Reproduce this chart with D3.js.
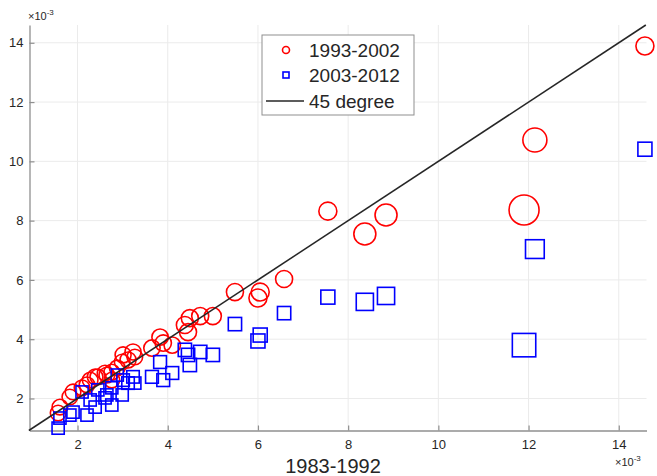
<!DOCTYPE html>
<html><head><meta charset="utf-8">
<script src="https://cdn.jsdelivr.net/npm/d3@7"></script>
<style>body{margin:0;background:#fff}svg{display:block;font-family:"Liberation Sans",Arial,Helvetica,sans-serif}</style>
</head><body><svg id="c" width="657" height="476"></svg>
<script>
// values in units of 1e-3
const period1 = [14.58,12.14,11.90,8.84,8.37,7.55,6.58,6.05,6.00,5.49,5.00,4.72,4.49,4.38,4.45,3.83,3.90,4.10,3.65,3.23,3.01,3.12,2.88,2.76,2.61,2.45,2.39,2.28,2.21,2.10,1.90,1.83,1.61,1.57,2.76,2.99,3.27,2.65];
const period2 = [13.89,10.72,8.36,8.19,7.55,8.32,6.03,5.59,5.39,5.59,4.78,4.78,4.71,4.48,4.24,4.07,3.87,3.80,3.70,3.57,3.47,3.30,3.03,2.89,2.86,2.73,2.73,2.62,2.46,2.36,2.22,2.05,1.71,1.51,2.62,3.23,3.40,2.79];
const period3 = [10.41,7.04,3.80,5.46,5.26,5.42,4.88,4.14,3.94,4.51,3.47,3.57,3.13,3.64,3.47,3.23,2.62,2.86,2.73,2.73,2.62,2.52,2.79,2.36,2.02,2.29,1.71,1.95,1.44,2.22,1.54,1.44,1.34,1.00,1.78,2.12,2.52,2.12];
const weights = [133,237,370,199,199,133,119,133,133,119,119,119,119,119,119,110,110,110,110,105,105,105,100,100,100,100,100,100,100,100,100,100,100,100,100,100,100,100];
const ticks = [2,4,6,8,10,12,14];
const seriesNames = ["1993-2002","2003-2012","45 degree"];
const xTitle = "1983-1992";

const svg = d3.select("#c");
const L=29.5,R=646.5,T=25,B=430.5;
const x = d3.scaleLinear().domain([0.935,14.615]).range([L,R]);
const y = d3.scaleLinear().domain([0.92,14.6]).range([B,T]);
const rs = d3.scaleSqrt().domain([0,100]).range([0,7.8]);

// grid
svg.append("g").selectAll("line").data(ticks).join("line")
  .attr("x1",d=>x(d)).attr("x2",d=>x(d)).attr("y1",T).attr("y2",B)
  .attr("stroke","#ebebeb").attr("stroke-width",1);
svg.append("g").selectAll("line").data(ticks).join("line")
  .attr("y1",d=>y(d)).attr("y2",d=>y(d)).attr("x1",L).attr("x2",R)
  .attr("stroke","#ebebeb").attr("stroke-width",1);

// axes
const xa = svg.append("g").attr("transform",`translate(0,${B})`)
  .call(d3.axisBottom(x).tickValues(ticks).tickSizeInner(-5).tickSizeOuter(0).tickPadding(9));
const ya = svg.append("g").attr("transform",`translate(${L},0)`)
  .call(d3.axisLeft(y).tickValues(ticks).tickSizeInner(-5).tickSizeOuter(0).tickPadding(6));
[xa,ya].forEach(a=>{
  a.select(".domain").attr("stroke","#8f8f8f").attr("stroke-width",1.3);
  a.selectAll(".tick line").attr("stroke","#8f8f8f").attr("stroke-width",1.2);
  a.selectAll(".tick text").attr("fill","#262626").style("font-size","13px").style("font-family","'Liberation Sans',Arial,sans-serif");
});

const data = period1.map((v,i)=>({x:v,a:period2[i],b:period3[i],w:weights[i]}));
const plot = svg.append("g");
plot.selectAll("circle").data(data).join("circle")
  .attr("cx",d=>x(d.x)).attr("cy",d=>y(d.a)).attr("r",d=>rs(d.w))
  .attr("fill","none").attr("stroke","#ff0000").attr("stroke-width",1.6);
plot.selectAll("rect").data(data).join("rect")
  .attr("x",d=>x(d.x)-rs(d.w)*0.78).attr("y",d=>y(d.b)-rs(d.w)*0.78)
  .attr("width",d=>rs(d.w)*1.56).attr("height",d=>rs(d.w)*1.56)
  .attr("fill","none").attr("stroke","#0000ff").attr("stroke-width",1.6);

// 45 degree line
const lineDom = [0.92,14.6];
svg.append("line").attr("x1",x(lineDom[0])).attr("y1",y(lineDom[0]))
  .attr("x2",x(lineDom[1])).attr("y2",y(lineDom[1]))
  .attr("stroke","#262626").attr("stroke-width",1.5);

// exponent labels
function expo(xp,yp){
  const t = svg.append("text").attr("x",xp).attr("y",yp).attr("fill","#262626").style("font-size","11px");
  t.append("tspan").text("×10");
  t.append("tspan").text("-3").attr("dy",-5).style("font-size","8px");
}
expo(28,20);
expo(615,466);

svg.append("text").attr("x",333).attr("y",473).attr("text-anchor","middle")
  .attr("fill","#262626").style("font-size","20px").text(xTitle);

// legend
const lg = svg.append("g");
lg.append("rect").attr("x",262).attr("y",35).attr("width",152).attr("height",80)
  .attr("fill","#fff").attr("stroke","#8f8f8f").attr("stroke-width",1);
const ly = [50,75,101];
lg.append("circle").attr("cx",286).attr("cy",ly[0]).attr("r",3.5).attr("fill","none").attr("stroke","#ff0000").attr("stroke-width",1.6);
lg.append("rect").attr("x",283).attr("y",ly[1]-3).attr("width",6).attr("height",6).attr("fill","none").attr("stroke","#0000ff").attr("stroke-width",1.6);
lg.append("line").attr("x1",266).attr("x2",304).attr("y1",ly[2]).attr("y2",ly[2]).attr("stroke","#262626").attr("stroke-width",1.5);
lg.selectAll("text").data(seriesNames).join("text")
  .attr("x",309).attr("y",(d,i)=>ly[i]+7).attr("fill","#262626").style("font-size","19px").text(d=>d);
</script></body></html>
